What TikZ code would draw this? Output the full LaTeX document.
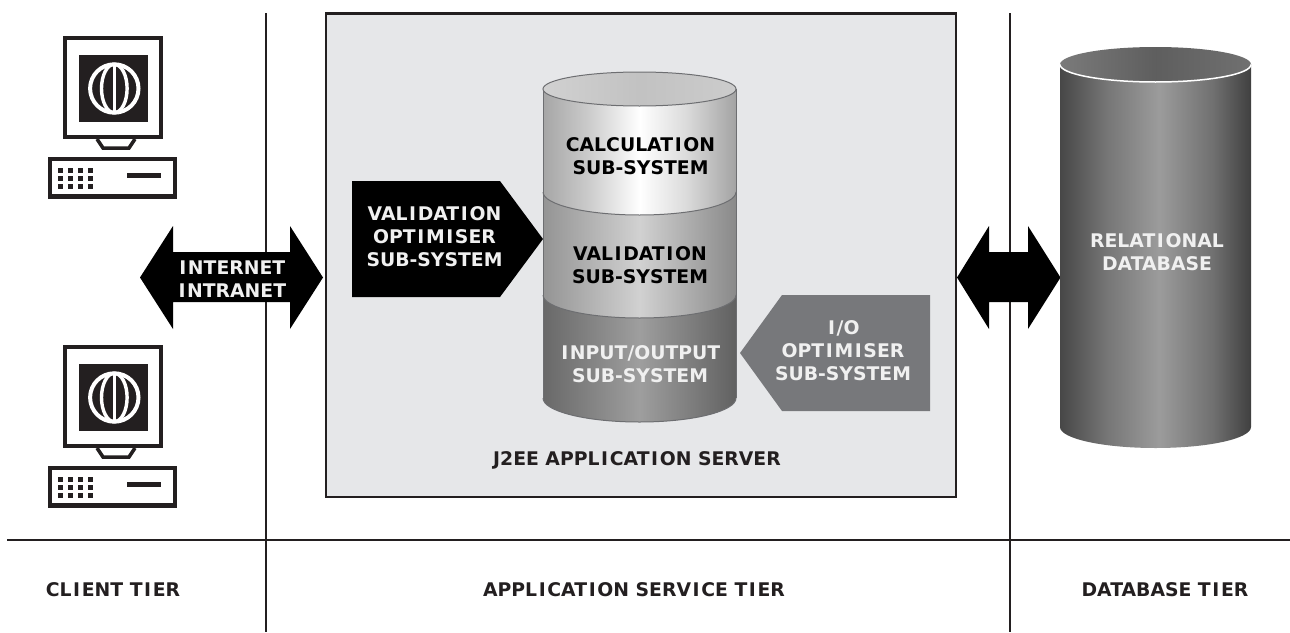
\documentclass[tikz,border=0pt]{standalone}
\usepackage{fontspec}
\setmainfont{DejaVu Sans}
\newcommand\Iw{\kern.087em I\kern.087em}
\definecolor{ink}{HTML}{231F20}
\definecolor{panel}{HTML}{E6E7E9}
\definecolor{rim}{HTML}{6D6E71}
\definecolor{ioGrey}{HTML}{77787B}
\pgfdeclarehorizontalshading{topband}{100bp}{color(0bp)=(white!65!black); color(25bp)=(white!65!black); color(37bp)=(white!80!black); color(50bp)=(white); color(62bp)=(white!86!black); color(75bp)=(white!64!black); color(100bp)=(white!64!black)}
\pgfdeclarehorizontalshading{lidband}{100bp}{color(0bp)=(white!82!black); color(25bp)=(white!82!black); color(50bp)=(white!76!black); color(75bp)=(white!80!black); color(100bp)=(white!80!black)}
\pgfdeclarehorizontalshading{midband}{100bp}{color(0bp)=(white!58!black); color(25bp)=(white!58!black); color(50bp)=(white!82!black); color(75bp)=(white!54!black); color(100bp)=(white!54!black)}
\pgfdeclarehorizontalshading{lowband}{100bp}{color(0bp)=(white!41!black); color(25bp)=(white!41!black); color(50bp)=(white!62!black); color(75bp)=(white!38!black); color(100bp)=(white!38!black)}
\pgfdeclarehorizontalshading{dbband}{100bp}{color(0bp)=(white!28!black); color(25bp)=(white!28!black); color(37bp)=(white!46!black); color(51bp)=(white!61!black); color(65bp)=(white!44!black); color(75bp)=(white!25!black); color(100bp)=(white!25!black)}
\pgfdeclarehorizontalshading{dblid}{100bp}{color(0bp)=(white!48!black); color(25bp)=(white!48!black); color(50bp)=(white!37!black); color(75bp)=(white!44!black); color(100bp)=(white!44!black)}
\tikzset{
  x=1pt,y=-1pt,
  rule/.style={draw=ink,line width=2pt},
  label/.style={font=\fontsize{18.8}{23}\selectfont\bfseries,align=center,inner sep=0pt},
  darktext/.style={label,text=black},
  lighttext/.style={label,text=white!94!black},
  tier/.style={label,text=ink},
  band/.style={draw=rim,line width=1pt},
  computer/.pic={
    \draw[ink,line width=4.5pt] (65,38) rectangle (161,137);
    \fill[ink] (79,55) rectangle (148,122);
    \draw[white,line width=4pt] (114.3,88.5) circle[radius=24.2];
    \draw[white,line width=3.4pt] (114.3,88.5) ellipse[x radius=12.8,y radius=24.2];
    \draw[white,line width=3pt] (114.3,64.5) -- (114.3,112.5);
    \draw[ink,line width=3.5pt,line join=miter] (97,139) -- (103,148) -- (129,148) -- (135,139);
    \fill[ink] (104,135) rectangle (126,139);
    \draw[ink,line width=4.5pt] (50,159) rectangle (175,196.5);
    \foreach \cx in {58,68,78,88}
      \foreach \cy in {168,176,183.5}
        \fill[ink] (\cx,\cy) rectangle ++(5.2,5);
    \fill[ink] (127,173) rectangle (161,178);
  }
}
\begin{document}
\begin{tikzpicture}
\useasboundingbox (0,0) rectangle (1290,632);
\fill[white] (0,0) rectangle (1290,632);
% tier rules
\coordinate (ruleLtop) at (266,13);
\coordinate (ruleLbot) at (266,632);
\coordinate (ruleRtop) at (1010,13);
\coordinate (ruleRbot) at (1010,632);
\coordinate (ruleHl) at (7,540);
\coordinate (ruleHr) at (1290,540);
\draw[rule] (ruleLtop) -- (ruleLbot);
\draw[rule] (ruleRtop) -- (ruleRbot);
\draw[rule] (ruleHl) -- (ruleHr);
% server panel
\filldraw[fill=panel,draw=ink,line width=2.5pt] (326,13.5) rectangle (956,497);
% computers
\pic at (0,0) {computer};
\pic at (0,309) {computer};
% application cylinder
\shade[shading=lowband] (543,295) -- (736,295) -- (736,398)
  arc[start angle=0,end angle=180,x radius=96.5,y radius=24] -- cycle;
\draw[band] (736,398) arc[start angle=0,end angle=180,x radius=96.5,y radius=24];
\shade[shading=midband] (543,192) -- (736,192) -- (736,295)
  arc[start angle=0,end angle=180,x radius=96.5,y radius=23] -- cycle;
\shade[shading=topband] (543,89) -- (736,89) -- (736,192)
  arc[start angle=0,end angle=180,x radius=96.5,y radius=23] -- cycle;
\draw[band] (736,192) arc[start angle=0,end angle=180,x radius=96.5,y radius=23];
\draw[band] (736,295) arc[start angle=0,end angle=180,x radius=96.5,y radius=23];
\draw[band] (543,89) -- (543,398);
\draw[band] (736,89) -- (736,398);
\shade[shading=lidband] (639.5,89) ellipse[x radius=96.5,y radius=17];
\draw[band] (639.5,89) ellipse[x radius=96.5,y radius=17];
\node[darktext] (calc) at (640.5,156.3) {CALCULAT\Iw ON\\SUB-SYSTEM};
\node[darktext] (valid) at (640,265.3) {VAL\Iw DAT\Iw ON\\SUB-SYSTEM};
\node[lighttext] (io) at (640,364.3) {\Iw NPUT/OUTPUT\\SUB-SYSTEM};
% optimisers
\fill[black] (352,181) -- (500,181) -- (543,239) -- (500,297) -- (352,297) -- cycle;
\node[lighttext] (valopt) at (434.5,236.8) {VAL\Iw DAT\Iw ON\\OPT\Iw M\Iw SER\\SUB-SYSTEM};
\fill[ioGrey] (930,295) -- (782,295) -- (740,353) -- (782,411) -- (930,411) -- cycle;
\node[lighttext] (ioopt) at (843,350.8) {\Iw /O\\OPT\Iw M\Iw SER\\SUB-SYSTEM};
\node[tier] (j2ee) at (637,460.8) {J2EE APPL\Iw CAT\Iw ON SERVER};
% network arrow
\fill[black] (140,277.5) -- (173,226) -- (173,252) -- (290,252) -- (290,226) -- (323,277.5) -- (290,329) -- (290,302) -- (173,302) -- (173,329) -- cycle;
\node[lighttext] (net) at (231.5,278.8) {\Iw NTERNET\\\Iw NTRANET};
% database arrow
\fill[black] (957,277.5) -- (989,226) -- (989,252) -- (1028,252) -- (1028,226) -- (1060.5,277.5) -- (1028,329) -- (1028,302) -- (989,302) -- (989,329) -- cycle;
% database
\shade[shading=dbband] (1060,64) -- (1251,64) -- (1251,427) arc[start angle=0,end angle=180,x radius=95.5,y radius=21] -- cycle;
\shade[shading=dblid] (1155.5,64.5) ellipse[x radius=95.5,y radius=17.5];
\draw[white,line width=1.5pt] (1251,64.5) arc[start angle=0,end angle=180,x radius=95.5,y radius=17.5];
\node[lighttext] (db) at (1157,251.8) {RELAT\Iw ONAL\\DATABASE};
% tier labels
\node[tier] (client) at (113,589.8) {CL\Iw ENT T\Iw ER};
\node[tier] (app) at (634,589.8) {APPL\Iw CAT\Iw ON SERV\Iw CE T\Iw ER};
\node[tier] (dbt) at (1165,589.8) {DATABASE T\Iw ER};
\end{tikzpicture}
\end{document}
